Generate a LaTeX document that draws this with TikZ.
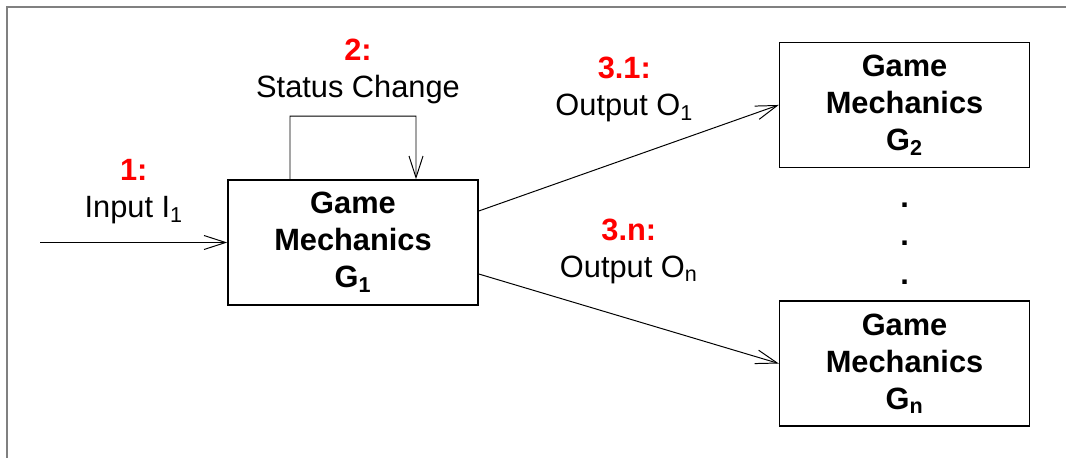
\documentclass[tikz,border=0pt]{standalone}
\usepackage{fontspec}
\setmainfont{Liberation Sans}
\usetikzlibrary{arrows.meta,positioning}

\newcommand{\redlbl}[1]{\textcolor{red}{\bfseries #1}}

\begin{document}
\begin{tikzpicture}[every node/.style={font=\fontsize{21.9pt}{26.3pt}\selectfont, inner sep=0pt},
                    box/.style={draw, line width=1.1pt, minimum width=6.25cm, minimum height=3.125cm,
                                align=center, font=\fontsize{21.9pt}{26.3pt}\selectfont\bfseries},
                    lbl/.style={align=center},
                    link/.style={line width=0.7pt},
                    >={Straight Barb[length=5.4mm,width=3.5mm]}]
\useasboundingbox (0,0) rectangle (26.65,11.45);
\draw[gray, line width=1pt] (26.65,11.275) -- (0.175,11.275) -- (0.175,0);

\node[box] (G1) at (8.825,5.3875) {Game\\Mechanics\\G\textsubscript{1}};
\node[box, above right=0.275cm and 7.5cm of G1] (G2) {Game\\Mechanics\\G\textsubscript{2}};
\node[box, below=3.3cm of G2] (Gn) {Game\\Mechanics\\G\textsubscript{n}};
\node[lbl, below=0.85cm of G2, font=\fontsize{21.9pt}{27.5pt}\selectfont\bfseries] (dots) {.\\.\\.};

% input
\coordinate[left=4.675cm of G1.west] (in);
\draw[link,->] (in) -- node[lbl, above=0.46cm] (lin) {\redlbl{1:}\\Input I\textsubscript{1}} (G1);

% status change
\draw[link,->] ([xshift=-1.575cm]G1.north) -- ++(0,1.575)
  -- ++(3.15,0) node[midway, lbl, above=0.3cm, xshift=0.125cm] (lst) {\redlbl{2:}\\Status Change}
  -- ([xshift=1.575cm]G1.north);

% outputs
\draw[link,->] ([yshift=0.7875cm]G1.east) -- node[lbl, pos=0.485, above=0.925cm] (lo1) {\redlbl{3.1:}\\Output O\textsubscript{1}} (G2.west);
\draw[link,->] ([yshift=-0.7875cm]G1.east) -- node[lbl, pos=0.5, above=0.86cm] (lon) {\redlbl{3.n:}\\Output O\textsubscript{n}} (Gn.west);

\end{tikzpicture}
\end{document}
